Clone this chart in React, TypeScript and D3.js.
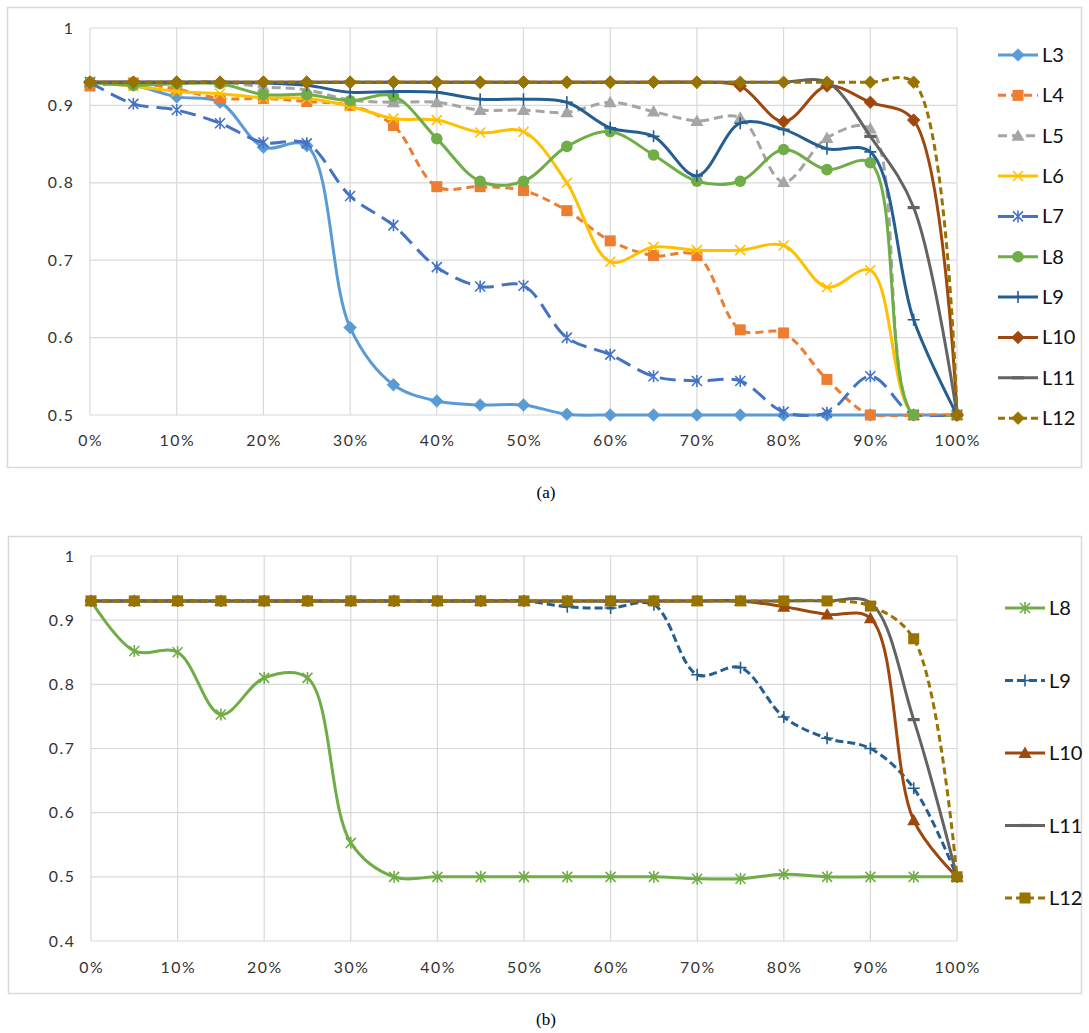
import React, { useEffect, useRef } from 'react';
import * as d3 from 'd3';

// x positions (percent) and tick labels
const xSteps = [0, 5, 10, 15, 20, 25, 30, 35, 40, 45, 50, 55, 60, 65, 70, 75, 80, 85, 90, 95, 100];
const xTickValues = [0, 10, 20, 30, 40, 50, 60, 70, 80, 90, 100];
const xTickLabels = ['0%', '10%', '20%', '30%', '40%', '50%', '60%', '70%', '80%', '90%', '100%'];

// chart (a)
const aL3 = [0.93, 0.926, 0.911, 0.904, 0.846, 0.848, 0.613, 0.539, 0.518, 0.513, 0.513, 0.501, 0.5, 0.5, 0.5, 0.5, 0.5, 0.5, 0.5, 0.5, 0.5];
const aL4 = [0.925, 0.929, 0.921, 0.909, 0.909, 0.905, 0.9, 0.874, 0.795, 0.795, 0.79, 0.764, 0.725, 0.706, 0.706, 0.61, 0.606, 0.546, 0.5, 0.5, 0.5];
const aL5 = [0.93, 0.93, 0.93, 0.93, 0.924, 0.92, 0.907, 0.904, 0.904, 0.894, 0.894, 0.891, 0.904, 0.892, 0.88, 0.884, 0.801, 0.858, 0.87, 0.5, 0.5];
const aL6 = [0.93, 0.925, 0.918, 0.915, 0.91, 0.909, 0.899, 0.883, 0.881, 0.865, 0.866, 0.8, 0.698, 0.717, 0.713, 0.713, 0.719, 0.665, 0.687, 0.5, 0.5];
const aL7 = [0.93, 0.902, 0.894, 0.877, 0.852, 0.851, 0.783, 0.745, 0.691, 0.666, 0.667, 0.6, 0.578, 0.55, 0.544, 0.544, 0.504, 0.503, 0.55, 0.5, 0.5];
const aL8 = [0.93, 0.926, 0.928, 0.928, 0.914, 0.914, 0.906, 0.912, 0.857, 0.802, 0.802, 0.847, 0.866, 0.836, 0.802, 0.802, 0.843, 0.817, 0.826, 0.5, 0.5];
const aL9 = [0.93, 0.93, 0.93, 0.93, 0.929, 0.926, 0.917, 0.918, 0.917, 0.908, 0.908, 0.904, 0.871, 0.86, 0.809, 0.877, 0.869, 0.844, 0.84, 0.623, 0.5];
const aL10 = [0.93, 0.93, 0.93, 0.93, 0.93, 0.93, 0.93, 0.93, 0.93, 0.93, 0.93, 0.93, 0.93, 0.93, 0.93, 0.925, 0.879, 0.925, 0.904, 0.881, 0.5];
const aL11 = [0.93, 0.93, 0.93, 0.93, 0.93, 0.93, 0.93, 0.93, 0.93, 0.93, 0.93, 0.93, 0.93, 0.93, 0.93, 0.93, 0.93, 0.93, 0.86, 0.768, 0.5];
const aL12 = [0.93, 0.93, 0.93, 0.93, 0.93, 0.93, 0.93, 0.93, 0.93, 0.93, 0.93, 0.93, 0.93, 0.93, 0.93, 0.93, 0.93, 0.93, 0.93, 0.93, 0.5];

// chart (b)
const bL8 = [0.93, 0.852, 0.85, 0.753, 0.81, 0.81, 0.553, 0.5, 0.5, 0.5, 0.5, 0.5, 0.5, 0.5, 0.497, 0.497, 0.504, 0.5, 0.5, 0.5, 0.5];
const bL9 = [0.93, 0.93, 0.93, 0.93, 0.93, 0.93, 0.93, 0.93, 0.93, 0.93, 0.93, 0.921, 0.919, 0.924, 0.815, 0.826, 0.749, 0.716, 0.7, 0.638, 0.5];
const bL10 = [0.93, 0.93, 0.93, 0.93, 0.93, 0.93, 0.93, 0.93, 0.93, 0.93, 0.93, 0.93, 0.93, 0.93, 0.93, 0.93, 0.921, 0.909, 0.903, 0.588, 0.5];
const bL11 = [0.93, 0.93, 0.93, 0.93, 0.93, 0.93, 0.93, 0.93, 0.93, 0.93, 0.93, 0.93, 0.93, 0.93, 0.93, 0.93, 0.93, 0.93, 0.927, 0.745, 0.5];
const bL12 = [0.93, 0.93, 0.93, 0.93, 0.93, 0.93, 0.93, 0.93, 0.93, 0.93, 0.93, 0.93, 0.93, 0.93, 0.93, 0.93, 0.93, 0.93, 0.922, 0.871, 0.5];

const aYTicks = [0.5, 0.6, 0.7, 0.8, 0.9, 1];
const bYTicks = [0.4, 0.5, 0.6, 0.7, 0.8, 0.9, 1];

type Shape = 'diamond' | 'square' | 'triangle' | 'x' | 'star' | 'circle' | 'plus' | 'dash';

interface Series {
  name: string;
  values: number[];
  color: string;
  shape: Shape;
  dash?: string;
}

const seriesA: Series[] = [
  { name: 'L3', values: aL3, color: '#5B9BD5', shape: 'diamond' },
  { name: 'L4', values: aL4, color: '#ED7D31', shape: 'square', dash: '8,5' },
  { name: 'L5', values: aL5, color: '#A5A5A5', shape: 'triangle', dash: '9,5' },
  { name: 'L6', values: aL6, color: '#FFC000', shape: 'x' },
  { name: 'L7', values: aL7, color: '#4472C4', shape: 'star', dash: '16,8' },
  { name: 'L8', values: aL8, color: '#70AD47', shape: 'circle' },
  { name: 'L9', values: aL9, color: '#255E91', shape: 'plus' },
  { name: 'L10', values: aL10, color: '#9E480E', shape: 'diamond' },
  { name: 'L11', values: aL11, color: '#636363', shape: 'dash' },
  { name: 'L12', values: aL12, color: '#997300', shape: 'diamond', dash: '7,4' },
];

const seriesB: Series[] = [
  { name: 'L8', values: bL8, color: '#70AD47', shape: 'star' },
  { name: 'L9', values: bL9, color: '#255E91', shape: 'plus', dash: '8,4' },
  { name: 'L10', values: bL10, color: '#9E480E', shape: 'triangle' },
  { name: 'L11', values: bL11, color: '#636363', shape: 'dash' },
  { name: 'L12', values: bL12, color: '#997300', shape: 'square', dash: '7,4' },
];

const GRID = '#D9D9D9';
const TICK_FONT = 'Lato, "Open Sans", sans-serif';

function marker(g: d3.Selection<SVGGElement, unknown, null, undefined>, shape: Shape, x: number, y: number, color: string) {
  const m = g.append('g').attr('transform', `translate(${x},${y})`);
  const r = 5;
  if (shape === 'diamond') {
    m.append('path').attr('d', `M0,-6.3L6.3,0L0,6.3L-6.3,0Z`).attr('fill', color).attr('stroke', color).attr('stroke-width', 0.75);
  } else if (shape === 'square') {
    m.append('rect').attr('x', -5.5).attr('y', -5.5).attr('width', 11).attr('height', 11).attr('fill', color);
  } else if (shape === 'triangle') {
    m.append('path').attr('d', `M0,-6.5L6.5,5L-6.5,5Z`).attr('fill', color);
  } else if (shape === 'circle') {
    m.append('circle').attr('r', 5.8).attr('fill', color);
  } else if (shape === 'x' || shape === 'star' || shape === 'plus') {
    const p = d3.path();
    if (shape !== 'plus') {
      p.moveTo(-r, -r); p.lineTo(r, r);
      p.moveTo(r, -r); p.lineTo(-r, r);
    }
    if (shape === 'star') {
      p.moveTo(0, -r - 1); p.lineTo(0, r + 1);
    }
    if (shape === 'plus') {
      p.moveTo(-r - 1, 0); p.lineTo(r + 1, 0);
      p.moveTo(0, -r - 1); p.lineTo(0, r + 1);
    }
    m.append('path').attr('d', p.toString()).attr('stroke', color).attr('stroke-width', 1.6).attr('fill', 'none');
  } else if (shape === 'dash') {
    m.append('path').attr('d', `M${-r - 1},0H${r + 1}`).attr('stroke', color).attr('stroke-width', 3.2);
  }
}

interface ChartCfg {
  id: string;
  plotX0: number;
  plotX1: number;
  plotYTop: number;
  plotYBottom: number;
  yDomain: [number, number];
  yTicks: number[];
  series: Series[];
  frame: [number, number, number, number];
  legendX: number;
  legendY0: number;
  legendStep: number;
  xLabelY: number;
  caption: string;
  captionY: number;
}

function drawChart(svg: d3.Selection<SVGSVGElement, unknown, null, undefined>, cfg: ChartCfg) {
  const root = svg.append('g');
  const [fx, fy, fw, fh] = cfg.frame;
  root.append('rect').attr('x', fx + 0.5).attr('y', fy + 0.5).attr('width', fw).attr('height', fh)
    .attr('fill', '#fff').attr('stroke', GRID).attr('stroke-width', 1.5);

  const x = d3.scaleLinear().domain([0, 100]).range([cfg.plotX0, cfg.plotX1]);
  const y = d3.scaleLinear().domain(cfg.yDomain).range([cfg.plotYBottom, cfg.plotYTop]);

  // keep smoothed curves from dipping under the axis floor
  root.append('clipPath').attr('id', cfg.id)
    .append('rect').attr('x', fx).attr('y', fy).attr('width', fw).attr('height', y(cfg.yDomain[0]) + 2 - fy);

  // gridlines
  const grid = root.append('g').attr('stroke', GRID).attr('stroke-width', 1.2);
  xTickValues.forEach(v => {
    grid.append('line').attr('x1', x(v)).attr('x2', x(v)).attr('y1', y(cfg.yDomain[1])).attr('y2', y(cfg.yDomain[0]));
  });
  cfg.yTicks.forEach(v => {
    grid.append('line').attr('x1', x(0)).attr('x2', x(100)).attr('y1', y(v)).attr('y2', y(v));
  });

  // tick labels
  const ls = 1.6;
  cfg.yTicks.forEach(v => {
    root.append('text').attr('x', cfg.plotX0 - 17 + ls).attr('y', y(v) + 5.5)
      .attr('text-anchor', 'end').attr('font-family', TICK_FONT).attr('font-size', 15.8)
      .attr('letter-spacing', ls).attr('fill', '#333').text(d3.format('')(v));
  });
  xTickValues.forEach((v, i) => {
    root.append('text').attr('x', x(v) + ls / 2).attr('y', cfg.xLabelY)
      .attr('text-anchor', 'middle').attr('font-family', TICK_FONT).attr('font-size', 15.8)
      .attr('letter-spacing', ls).attr('fill', '#333').text(xTickLabels[i]);
  });

  const line = d3.line<number>()
    .x((_, i) => x(xSteps[i]))
    .y(d => y(d))
    .curve(d3.curveCatmullRom.alpha(0.5));

  cfg.series.forEach(s => {
    const g = root.append('g');
    g.append('path').attr('d', line(s.values) as string).attr('fill', 'none')
      .attr('clip-path', `url(#${cfg.id})`)
      .attr('stroke', s.color).attr('stroke-width', 3)
      .attr('stroke-dasharray', s.dash ?? null).attr('stroke-linejoin', 'round');
    s.values.forEach((v, i) => marker(g, s.shape, x(xSteps[i]), y(v), s.color));
  });

  // legend
  cfg.series.forEach((s, i) => {
    const ly = cfg.legendY0 + i * cfg.legendStep;
    const g = root.append('g');
    g.append('line').attr('x1', cfg.legendX).attr('x2', cfg.legendX + 40).attr('y1', ly).attr('y2', ly)
      .attr('stroke', s.color).attr('stroke-width', 3).attr('stroke-dasharray', s.dash ?? null);
    marker(g, s.shape, cfg.legendX + 20, ly, s.color);
    g.append('text').attr('x', cfg.legendX + 44).attr('y', ly + 7)
      .attr('font-family', TICK_FONT).attr('font-size', 20).attr('fill', '#111').text(s.name);
  });

  svg.append('text').attr('x', 546).attr('y', cfg.captionY).attr('text-anchor', 'middle')
    .attr('font-family', '"Liberation Serif", "Times New Roman", serif').attr('font-size', 17)
    .attr('fill', '#000').text(cfg.caption);
}

const App: React.FC = () => {
  const ref = useRef<SVGSVGElement>(null);

  useEffect(() => {
    if (!ref.current) return;
    const svg = d3.select(ref.current);
    svg.selectAll('*').remove();

    drawChart(svg, {
      id: 'clip-a',
      plotX0: 90, plotX1: 957, plotYTop: 28, plotYBottom: 415,
      yDomain: [0.5, 1], yTicks: aYTicks, series: seriesA,
      frame: [7, 7, 1074, 460],
      legendX: 998, legendY0: 55, legendStep: 40.35,
      xLabelY: 446, caption: '(a)', captionY: 498,
    });
    drawChart(svg, {
      id: 'clip-b',
      plotX0: 91, plotX1: 957, plotYTop: 556, plotYBottom: 941,
      yDomain: [0.4, 1], yTicks: bYTicks, series: seriesB,
      frame: [8, 536, 1073, 457],
      legendX: 1005, legendY0: 608, legendStep: 72.5,
      xLabelY: 973, caption: '(b)', captionY: 1025,
    });
  }, []);

  return (
    <svg ref={ref} width={1089} height={1033}
      style={{ position: 'absolute', left: 0, top: 0, background: '#fff' }} />
  );
};

export default App;
